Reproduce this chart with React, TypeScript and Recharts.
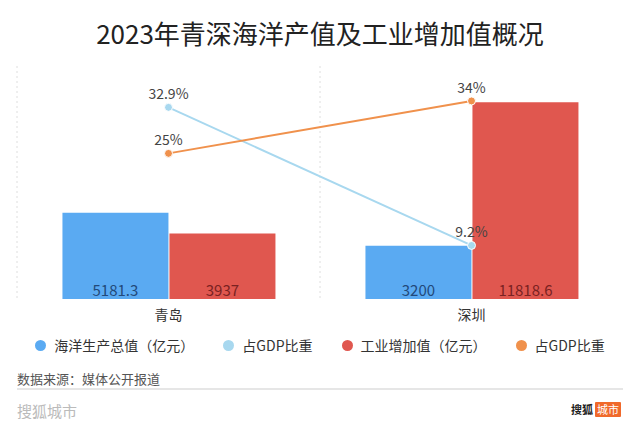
import {
  ComposedChart,
  Bar,
  Line,
  XAxis,
  YAxis,
  CartesianGrid,
  LabelList,
} from "recharts";

const cities = ["青岛", "深圳"];
const marineOutput = [5181.3, 3200];
const marineShare = [32.9, 9.2];
const industryValue = [3937, 11818.6];
const industryShare = [25, 34];

const seriesNames = [
  "海洋生产总值（亿元）",
  "占GDP比重",
  "工业增加值（亿元）",
  "占GDP比重",
];
const seriesColors = ["#5aaaf2", "#a8d8ef", "#e0574f", "#f0914c"];

const FONT = '"Noto Sans CJK SC", "Noto Sans", sans-serif';

const data = cities.map((city, i) => ({
  city,
  marineOutput: marineOutput[i],
  marineShare: marineShare[i],
  industryValue: industryValue[i],
  industryShare: industryShare[i],
}));

export default function App() {
  return (
    <div
      style={{
        position: "absolute",
        left: 0,
        top: 0,
        width: 640,
        height: 437,
        background: "#fff",
        fontFamily: FONT,
        overflow: "hidden",
      }}
    >
      <div
        style={{
          position: "absolute",
          top: 16,
          width: 640,
          textAlign: "center",
          fontSize: 26,
          lineHeight: "34px",
          color: "#222",
        }}
      >
        2023年青深海洋产值及工业增加值概况
      </div>

      <ComposedChart
        width={640}
        height={330}
        data={data}
        margin={{ top: 66, right: 17, bottom: 11, left: 17 }}
        barCategoryGap="15%"
        barGap={1}
        style={{ fontFamily: FONT }}
      >
        <CartesianGrid
          horizontal={false}
          stroke="#dedede"
          strokeDasharray="2 3"
          verticalCoordinatesGenerator={({ offset }: any) => [
            offset.left,
            offset.left + offset.width / 2,
          ]}
        />
        <XAxis
          dataKey="city"
          axisLine={false}
          tickLine={false}
          height={20}
          tick={{ fill: "#333", fontSize: 14, dy: 3 }}
        />
        <YAxis yAxisId="left" hide domain={[0, 14000]} />
        <YAxis yAxisId="right" orientation="right" hide domain={[0, 40]} />

        <Bar
          yAxisId="left"
          dataKey="marineOutput"
          name={seriesNames[0]}
          fill={seriesColors[0]}
          isAnimationActive={false}
        >
          <LabelList
            dataKey="marineOutput"
            position="insideBottom"
            offset={3}
            style={{ fill: "#22497a", fontSize: 15 }}
          />
        </Bar>
        <Bar
          yAxisId="left"
          dataKey="industryValue"
          name={seriesNames[2]}
          fill={seriesColors[2]}
          isAnimationActive={false}
        >
          <LabelList
            dataKey="industryValue"
            position="insideBottom"
            offset={3}
            style={{ fill: "#7a2222", fontSize: 15 }}
          />
        </Bar>

        <Line
          yAxisId="right"
          dataKey="marineShare"
          name={seriesNames[1]}
          stroke={seriesColors[1]}
          strokeWidth={2}
          dot={{ r: 4, fill: seriesColors[1], stroke: "#fff", strokeWidth: 1 }}
          isAnimationActive={false}
        >
          <LabelList
            dataKey="marineShare"
            position="top"
            offset={8}
            formatter={(v: any) => `${v}%`}
            style={{ fill: "#444", fontSize: 14 }}
          />
        </Line>
        <Line
          yAxisId="right"
          dataKey="industryShare"
          name={seriesNames[3]}
          stroke={seriesColors[3]}
          strokeWidth={2}
          dot={{ r: 4, fill: seriesColors[3], stroke: "#fff", strokeWidth: 1 }}
          isAnimationActive={false}
        >
          <LabelList
            dataKey="industryShare"
            position="top"
            offset={8}
            formatter={(v: any) => `${v}%`}
            style={{ fill: "#444", fontSize: 14 }}
          />
        </Line>
      </ComposedChart>

      {/* legend */}
      <div
        style={{
          position: "absolute",
          top: 334,
          width: 640,
          display: "flex",
          justifyContent: "center",
          gap: 29,
          fontSize: 14,
          lineHeight: "22px",
          color: "#333",
        }}
      >
        {seriesNames.map((name, i) => (
          <div key={i} style={{ display: "flex", alignItems: "center" }}>
            <span
              style={{
                display: "inline-block",
                width: 11,
                height: 11,
                borderRadius: "50%",
                background: seriesColors[i],
                marginRight: 8,
              }}
            />
            {name}
          </div>
        ))}
      </div>

      <div
        style={{
          position: "absolute",
          left: 17,
          top: 370,
          fontSize: 13,
          lineHeight: "18px",
          color: "#555",
        }}
      >
        数据来源：媒体公开报道
      </div>
      <div
        style={{
          position: "absolute",
          left: 17,
          top: 388,
          width: 606,
          height: 2,
          background: "#e6e6e6",
        }}
      />
      <div
        style={{
          position: "absolute",
          left: 17,
          top: 400,
          fontSize: 15,
          lineHeight: "22px",
          color: "#bbb",
        }}
      >
        搜狐城市
      </div>
      <div
        style={{
          position: "absolute",
          left: 571,
          top: 402,
          display: "flex",
          alignItems: "center",
          fontSize: 11,
          lineHeight: "15px",
        }}
      >
        <span style={{ color: "#222", fontWeight: 700, marginRight: 2 }}>
          搜狐
        </span>
        <span
          style={{
            background: "#f0692b",
            color: "#fff",
            padding: "0 2px",
            borderRadius: 1,
          }}
        >
          城市
        </span>
      </div>
    </div>
  );
}
